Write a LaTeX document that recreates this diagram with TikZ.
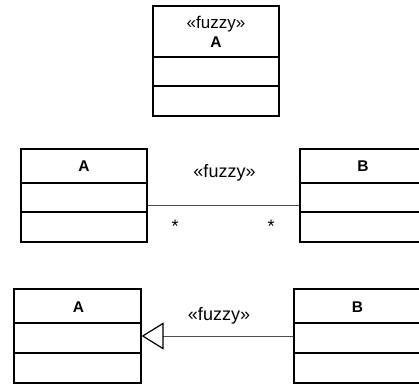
\documentclass[tikz,border=0pt]{standalone}
\usepackage{fontspec}
\setmainfont{Liberation Sans}
\usetikzlibrary{arrows.meta}
\tikzset{
  classbox/.style={draw=black, line width=1.2pt, rectangle, inner sep=0pt},
  divider/.style={draw=black, line width=1.2pt},
  stereo/.style={inner sep=0pt, anchor=base, font=\fontsize{17}{20}\selectfont},
  cname/.style={inner sep=0pt, anchor=base, font=\fontsize{15.5}{18}\selectfont\bfseries},
  lbl/.style={inner sep=0pt, anchor=base, font=\fontsize{18}{21}\selectfont},
  mult/.style={inner sep=0pt, anchor=base, font=\fontsize{18}{21}\selectfont},
  assoc/.style={draw=black!70, line width=0.9pt},
  gen/.style={draw=black!70, line width=0.9pt, -{Triangle[open, length=22pt, width=27pt, line width=1.2pt, color=black, fill=white]}}
}
\begin{document}
\begin{tikzpicture}[x=1pt, y=-1pt]
\path[use as bounding box] (0,0) rectangle (419,385);
\clip (0,0) rectangle (419,385);
% top class
\node[classbox, minimum width=126pt, minimum height=110pt] (topA) at (216,61) {};
\draw[divider] (topA.west |- 0,57) -- (topA.east |- 0,57);
\draw[divider] (topA.west |- 0,86) -- (topA.east |- 0,86);
\node[stereo] (topSt) at (216,28.5) {«fuzzy»};
\node[cname] (topN) at (216,47.7) {A};
% middle
\node[classbox, minimum width=126pt, minimum height=93pt] (midA) at (84,195.5) {};
\draw[divider] (midA.west |- 0,183) -- (midA.east |- 0,183);
\draw[divider] (midA.west |- 0,212) -- (midA.east |- 0,212);
\node[cname] (midAN) at (84,171) {A};
\node[classbox, minimum width=126pt, minimum height=93pt] (midB) at (363,195.5) {};
\draw[divider] (midB.west |- 0,183) -- (midB.east |- 0,183);
\draw[divider] (midB.west |- 0,212) -- (midB.east |- 0,212);
\node[cname] (midBN) at (363,171) {B};
\coordinate (my) at (0,205);
\draw[assoc] (midA.east |- my) -- (midB.west |- my);
\node[lbl] (midSt) at (224.5,177.3) {«fuzzy»};
\node[mult] (m1) at (175,232) {*};
\node[mult] (m2) at (271,232) {*};
% bottom
\node[classbox, minimum width=127pt, minimum height=94pt] (botA) at (77.5,336) {};
\draw[divider] (botA.west |- 0,323) -- (botA.east |- 0,323);
\draw[divider] (botA.west |- 0,353) -- (botA.east |- 0,353);
\node[cname] (botAN) at (78.5,312.3) {A};
\node[classbox, minimum width=127pt, minimum height=94pt] (botB) at (357.5,336) {};
\draw[divider] (botB.west |- 0,323) -- (botB.east |- 0,323);
\draw[divider] (botB.west |- 0,353) -- (botB.east |- 0,353);
\node[cname] (botBN) at (357.5,312.3) {B};
\coordinate (by) at (0,336);
\draw[gen] (botB.west |- by) -- (botA.east |- by);
\node[lbl] (botSt) at (219,320) {«fuzzy»};
\end{tikzpicture}
\end{document}
